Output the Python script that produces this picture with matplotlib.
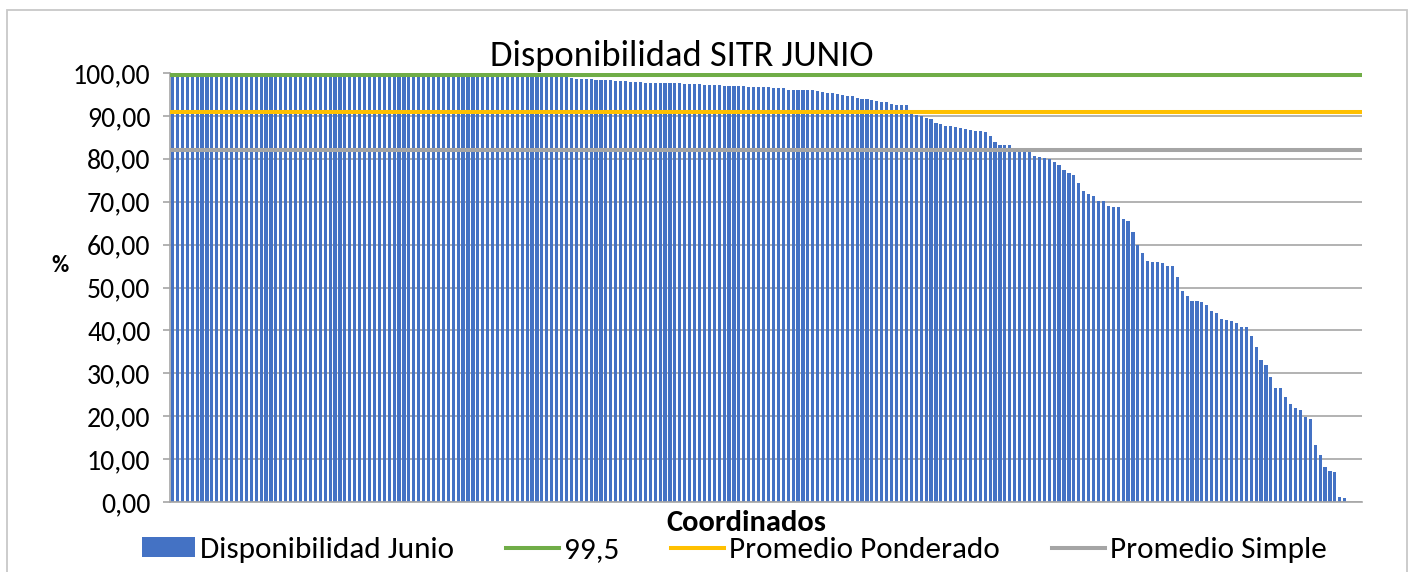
import numpy as np
import matplotlib
matplotlib.use("Agg")
import matplotlib.pyplot as plt
from matplotlib import font_manager
from matplotlib.patches import Rectangle

# ---------------- data ----------------
title = "Disponibilidad SITR JUNIO"
x_label = "Coordinados"
y_label = "%"

disp_top = [100.0, 99.99, 99.99, 99.98, 99.98, 99.97, 99.97, 99.96, 99.96, 99.95,
            99.95, 99.94, 99.94, 99.93, 99.93, 99.92, 99.92, 99.91, 99.90, 99.90,
            99.89, 99.88, 99.88, 99.87, 99.86, 99.85, 99.85, 99.84, 99.83, 99.82,
            99.81, 99.80, 99.79, 99.78, 99.77, 99.76, 99.75, 99.74, 99.73, 99.72,
            99.70, 99.69, 99.68, 99.66, 99.65, 99.63, 99.62, 99.60, 99.58, 99.56,
            99.55, 99.53, 99.51, 99.49, 99.47, 99.45, 99.43, 99.41, 99.39, 99.37,
            99.35, 99.33, 99.31, 99.29, 99.27, 99.25, 99.23, 99.21, 99.19, 99.17,
            99.15, 99.13, 99.11, 99.09, 99.07, 99.05, 99.03, 99.01, 99.00, 98.98,
            98.96, 98.93]
disp_high = [98.70, 98.62, 98.58, 98.50, 98.44, 98.40, 98.33, 98.28, 98.22, 98.17, 98.10]
disp_mid = [97.98, 97.90, 97.83, 97.75, 97.75, 97.67, 97.67, 97.67, 97.62, 97.59,
            97.59, 97.51, 97.44, 97.44, 97.36, 97.30, 97.28, 97.20, 97.12, 97.05,
            96.97, 96.97, 96.97, 96.89, 96.81, 96.81, 96.73, 96.73, 96.66, 96.58,
            96.50, 96.42, 96.11, 96.11, 96.11, 96.04, 96.04, 95.96, 95.72, 95.49,
            95.34, 95.26, 95.03, 94.87, 94.72, 94.56, 94.17, 93.94, 93.86, 93.71]
disp_drop = [93.40, 93.24, 93.16, 92.77, 92.62, 92.46, 92.46, 90.60, 90.20, 89.98,
             89.43, 89.28, 88.27, 88.11, 87.57, 87.57, 87.33, 87.18, 86.95, 86.79,
             86.48, 86.40, 86.32, 85.31, 83.84, 83.29, 83.22, 83.14, 82.00, 81.90,
             81.80, 81.70, 80.65, 80.34, 80.11, 79.95, 79.18, 78.48, 77.47, 76.61,
             76.22, 74.36, 72.49, 71.79, 71.25, 70.16, 70.16, 68.92, 68.84, 68.69,
             65.97, 65.42, 63.01, 59.91, 57.96, 56.26]
disp_tail = [55.9, 55.9, 55.6, 55.1, 55.1, 52.4, 49.1, 48.1, 46.9, 46.9,
             46.6, 46.0, 44.5, 44.1, 42.7, 42.4, 42.2, 41.7, 40.7, 40.7,
             38.7, 36.2, 33.2, 31.9, 29.2, 26.6, 26.6, 24.5, 22.8, 21.9,
             21.4, 19.9, 19.3, 13.4, 10.9, 8.2, 7.2, 7.0, 1.2, 0.9,
             0.0, 0.0, 0.0]
disponibilidad = disp_top + disp_high + disp_mid + disp_drop + disp_tail

meta = 99.5
promedio_ponderado = 91.0
promedio_simple = 82.05

series_names = ["Disponibilidad Junio", "99,5", "Promedio Ponderado", "Promedio Simple"]
y_ticks = [0, 10, 20, 30, 40, 50, 60, 70, 80, 90, 100]
y_tick_labels = ["0,00", "10,00", "20,00", "30,00", "40,00", "50,00",
                 "60,00", "70,00", "80,00", "90,00", "100,00"]

# ---------------- style ----------------
avail = {f.name for f in font_manager.fontManager.ttflist}
family = next((f for f in ["Carlito", "Calibri", "Lato", "DejaVu Sans"] if f in avail), "DejaVu Sans")
plt.rcParams['font.family'] = [family, 'DejaVu Sans']

W, H = 1414, 572
fig = plt.figure(figsize=(W / 100, H / 100), dpi=100)

def fx(px):
    return px / W

def fy(py):
    return 1 - py / H

ax = fig.add_axes([fx(170), fy(502), fx(1362) - fx(170), fy(73) - fy(502)])

n = len(disponibilidad)
x = np.arange(n)
bars = ax.bar(x, disponibilidad, width=0.64, color="#4472C4", zorder=2)
l1 = ax.axhline(meta, color="#70AD47", lw=2.9, zorder=3)
l2 = ax.axhline(promedio_ponderado, color="#FFC000", lw=2.9, zorder=3)
l3 = ax.axhline(promedio_simple, color="#A5A5A5", lw=2.9, zorder=3)

ax.set_xlim(-0.5, n - 0.5)
ax.set_ylim(0, 100)
ax.set_yticks(y_ticks)
ax.set_yticklabels(y_tick_labels)
ax.set_xticks([])
ax.yaxis.grid(True, color="#A6A6A6", lw=1.2, zorder=0)
ax.set_axisbelow(True)
for s in ["top", "right"]:
    ax.spines[s].set_visible(False)
for s in ["left", "bottom"]:
    ax.spines[s].set_color("#A6A6A6")
    ax.spines[s].set_linewidth(1.2)
ax.tick_params(axis="y", length=5, width=1.2, color="#A6A6A6", pad=9, labelsize=20)

fig.text(fx(682), fy(56), title, ha="center", va="center", fontsize=26.3)
fig.text(fx(60), fy(265), y_label, ha="center", va="center", fontsize=17, fontweight="bold")
fig.text(fx(746), fy(523), x_label, ha="center", va="center", fontsize=22, fontweight="bold")

fs = 22.5
fpx = fs * 100 / 72
fig.legend([bars, l1, l2, l3], series_names, ncol=4, loc="center",
           bbox_to_anchor=(fx(734), fy(550)), frameon=False, fontsize=fs,
           handlelength=53 / fpx, handletextpad=5 / fpx, columnspacing=52 / fpx,
           handleheight=0.62, borderaxespad=0, borderpad=0)

fig.patches.append(Rectangle((fx(7), -0.1), fx(1407) - fx(7), fy(10) + 0.1,
                             transform=fig.transFigure, fill=False,
                             edgecolor="#C8C8C8", lw=1.3))

fig.savefig("out.png", dpi=100)
